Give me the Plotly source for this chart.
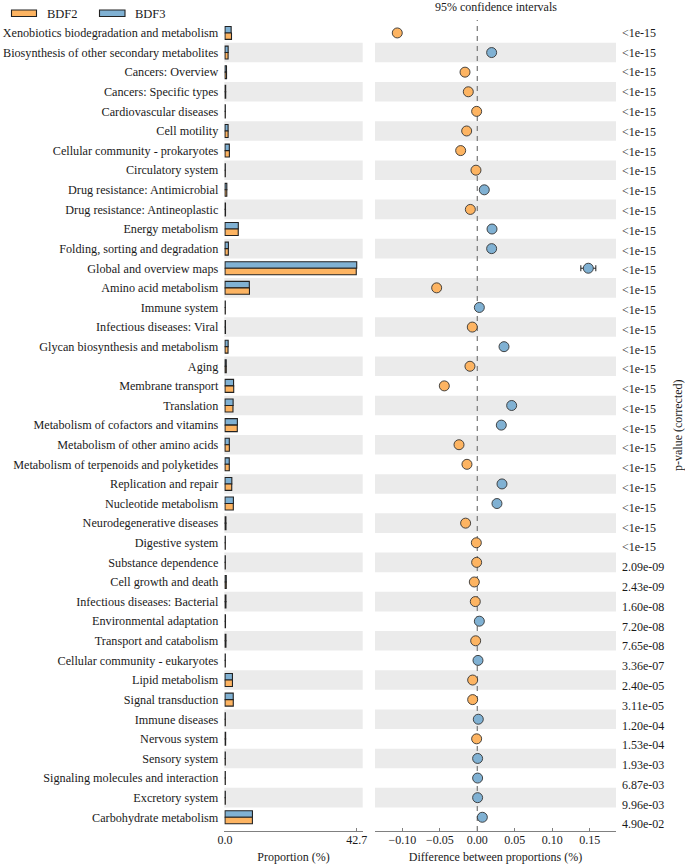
import plotly.graph_objects as go

categories = [
    "Xenobiotics biodegradation and metabolism",
    "Biosynthesis of other secondary metabolites",
    "Cancers: Overview",
    "Cancers: Specific types",
    "Cardiovascular diseases",
    "Cell motility",
    "Cellular community - prokaryotes",
    "Circulatory system",
    "Drug resistance: Antimicrobial",
    "Drug resistance: Antineoplastic",
    "Energy metabolism",
    "Folding, sorting and degradation",
    "Global and overview maps",
    "Amino acid metabolism",
    "Immune system",
    "Infectious diseases: Viral",
    "Glycan biosynthesis and metabolism",
    "Aging",
    "Membrane transport",
    "Translation",
    "Metabolism of cofactors and vitamins",
    "Metabolism of other amino acids",
    "Metabolism of terpenoids and polyketides",
    "Replication and repair",
    "Nucleotide metabolism",
    "Neurodegenerative diseases",
    "Digestive system",
    "Substance dependence",
    "Cell growth and death",
    "Infectious diseases: Bacterial",
    "Environmental adaptation",
    "Transport and catabolism",
    "Cellular community - eukaryotes",
    "Lipid metabolism",
    "Signal transduction",
    "Immune diseases",
    "Nervous system",
    "Sensory system",
    "Signaling molecules and interaction",
    "Excretory system",
    "Carbohydrate metabolism",
]

bdf2 = [2.10, 1.00, 0.50, 0.22, 0.10, 1.01, 1.42, 0.10, 0.58, 0.16, 4.29, 1.08, 42.55, 7.93,
        0.10, 0.15, 0.98, 0.40, 2.82, 2.58, 3.98, 1.41, 1.39, 2.18, 2.69, 0.31, 0.10, 0.10,
        0.40, 0.30, 0.15, 0.30, 0.10, 2.42, 2.68, 0.10, 0.20, 0.10, 0.10, 0.10, 8.88]
bdf3 = [1.99, 1.02, 0.48, 0.21, 0.10, 1.00, 1.40, 0.10, 0.59, 0.15, 4.31, 1.10, 42.70, 7.88,
        0.10, 0.14, 1.02, 0.39, 2.78, 2.63, 4.01, 1.39, 1.38, 2.21, 2.72, 0.29, 0.10, 0.10,
        0.40, 0.30, 0.15, 0.30, 0.10, 2.41, 2.67, 0.10, 0.20, 0.10, 0.10, 0.10, 8.89]

diff = [-0.1067, 0.0191, -0.0164, -0.0120, -0.0009, -0.0142, -0.0222, -0.0018, 0.0093, -0.0093,
        0.0196, 0.0191, 0.1480, -0.0542, 0.0027, -0.0067, 0.0356, -0.0098, -0.0440, 0.0458,
        0.0320, -0.0244, -0.0138, 0.0329, 0.0262, -0.0156, -0.0013, -0.0009, -0.0040, -0.0027,
        0.0027, -0.0022, 0.0009, -0.0062, -0.0062, 0.0013, -0.0009, 0.0004, 0.0004, 0.0004, 0.0067]
ci_half = [0.0015, 0.0010, 0.0008, 0.0008, 0.0003, 0.0008, 0.0010, 0.0003, 0.0008, 0.0005,
           0.0015, 0.0010, 0.0100, 0.0050, 0.0003, 0.0005, 0.0010, 0.0005, 0.0015, 0.0015,
           0.0018, 0.0012, 0.0012, 0.0015, 0.0015, 0.0006, 0.0003, 0.0003, 0.0008, 0.0008,
           0.0006, 0.0008, 0.0005, 0.0030, 0.0030, 0.0008, 0.0008, 0.0006, 0.0006, 0.0006, 0.0046]

pvals = ["<1e-15"] * 27 + ["2.09e-09", "2.43e-09", "1.60e-08", "7.20e-08", "7.65e-08", "3.36e-07",
                           "2.40e-05", "3.11e-05", "1.20e-04", "1.53e-04", "1.93e-03", "6.87e-03",
                           "9.96e-03", "4.90e-02"]

ORANGE = "#FDB462"
BLUE = "#80B1D3"
FONT = "Liberation Serif, Times New Roman, serif"
TXT = "#1a1a1a"
AX = "#808080"
BAND = "#EBEBEB"

W, H = 685, 867
T, B = 20, 36
PH = H - T - B

idx = list(range(len(categories)))
dot_colors = [BLUE if d > 0 else ORANGE for d in diff]

fig = go.Figure()
fig.add_trace(go.Bar(x=bdf3, y=idx, orientation="h", name="BDF3", xaxis="x", yaxis="y",
                     marker=dict(color=BLUE, line=dict(color="#222222", width=1.1)),
                     showlegend=False))
fig.add_trace(go.Bar(x=bdf2, y=idx, orientation="h", name="BDF2", xaxis="x", yaxis="y",
                     marker=dict(color=ORANGE, line=dict(color="#222222", width=1.1)),
                     showlegend=False))
fig.add_trace(go.Scatter(x=diff, y=idx, mode="markers", xaxis="x2", yaxis="y2",
                         marker=dict(size=10, color=dot_colors, line=dict(color="#333333", width=0.9)),
                         error_x=dict(type="data", array=ci_half, color="#222222", thickness=1, width=3),
                         showlegend=False))
fig.add_trace(go.Scatter(x=[0], y=[0], mode="markers", xaxis="x2", yaxis="y3",
                         marker=dict(opacity=0), showlegend=False, hoverinfo="skip"))

shapes = []
for i in idx:
    if i % 2 == 1:
        for xr, yr in (("x domain", "y"), ("x2 domain", "y2")):
            shapes.append(dict(type="rect", xref=xr, yref=yr, x0=0, x1=1, y0=i - 0.5, y1=i + 0.5,
                               fillcolor=BAND, line=dict(width=0), layer="below"))
shapes.append(dict(type="line", xref="x2", yref="y2 domain", x0=0, x1=0, y0=0, y1=1,
                   line=dict(color="#808080", width=1.3, dash="5px,5px"), layer="below"))


def py(px):
    return (H - B - px) / PH


shapes.append(dict(type="rect", xref="paper", yref="paper", x0=11.5 / W, x1=36.5 / W,
                   y0=py(16.5), y1=py(10), fillcolor=ORANGE, line=dict(color="#222222", width=1.1)))
shapes.append(dict(type="rect", xref="paper", yref="paper", x0=99.5 / W, x1=125 / W,
                   y0=py(16.5), y1=py(10), fillcolor=BLUE, line=dict(color="#222222", width=1.1)))

annotations = [
    dict(text="BDF2", x=45 / W, y=py(13.5), xref="paper", yref="paper", xanchor="left",
         yanchor="middle", showarrow=False, font=dict(size=12.5, color=TXT, family=FONT)),
    dict(text="BDF3", x=133 / W, y=py(13.5), xref="paper", yref="paper", xanchor="left",
         yanchor="middle", showarrow=False, font=dict(size=12.5, color=TXT, family=FONT)),
    dict(text="95% confidence intervals", x=495.5 / W, y=py(7), xref="paper", yref="paper",
         xanchor="center", yanchor="middle", showarrow=False, font=dict(size=12, color=TXT, family=FONT)),
    dict(text="p-value (corrected)", x=678 / W, y=py(425), xref="paper", yref="paper",
         xanchor="center", yanchor="middle", textangle=-90, showarrow=False,
         font=dict(size=12, color=TXT, family=FONT)),
]

fig.update_layout(
    width=W, height=H, autosize=False,
    margin=dict(l=0, r=0, t=T, b=B, pad=0),
    plot_bgcolor="white", paper_bgcolor="white",
    font=dict(family=FONT, size=12, color=TXT),
    barmode="group", bargap=0.34, bargroupgap=0,
    shapes=shapes, annotations=annotations,
    xaxis=dict(domain=[224.3 / W, 362.7 / W], range=[-0.23, 44.64], tickvals=[0, 42.7],
               ticktext=["0.0", "42.7"], showline=True, linecolor=AX, linewidth=1,
               ticks="inside", ticklen=3, tickcolor=AX, showgrid=False, zeroline=False,
               title=dict(text="Proportion (%)", standoff=6, font=dict(size=12)),
               anchor="y", automargin=False, tickfont=dict(size=12), ticklabelstandoff=-2),
    yaxis=dict(domain=[0, 1], range=[40.7, -0.66], tickvals=idx, ticktext=categories,
               showline=False, ticks="", showgrid=False, zeroline=False, anchor="x",
               automargin=False, tickfont=dict(size=12.2), ticklabelstandoff=5),
    xaxis2=dict(domain=[375 / W, 616 / W], range=[-0.1364, 0.1849],
                tickvals=[-0.10, -0.05, 0.0, 0.05, 0.10, 0.15], tickformat=".2f",
                showline=True, linecolor=AX, linewidth=1, ticks="inside", ticklen=3,
                tickcolor=AX, showgrid=False, zeroline=False,
                title=dict(text="Difference between proportions (%)", standoff=6, font=dict(size=12)),
                anchor="y2", automargin=False, tickfont=dict(size=12), ticklabelstandoff=-2),
    yaxis2=dict(domain=[0, 1], range=[40.7, -0.66], showticklabels=False, showline=False,
                ticks="", showgrid=False, zeroline=False, anchor="x2", automargin=False),
    yaxis3=dict(domain=[0, 1], range=[40.34, -0.642], overlaying="y2", side="right", anchor="x2",
                tickvals=idx, ticktext=pvals, showline=False, ticks="", showgrid=False,
                zeroline=False, automargin=False, tickfont=dict(size=12), ticklabelstandoff=5),
)

fig.write_html("out.html", post_script="document.body.style.margin='0';",
               config={"displayModeBar": False})
